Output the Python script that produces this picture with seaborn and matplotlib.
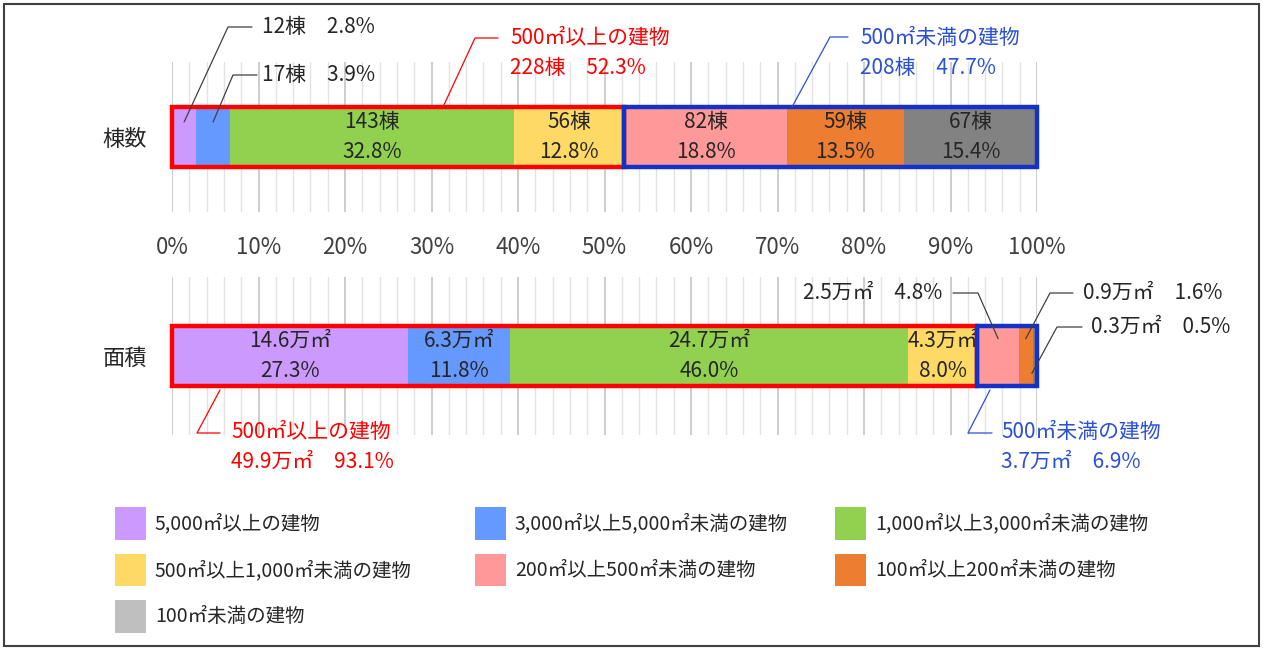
import numpy as np
import pandas as pd
import seaborn as sns
import matplotlib.pyplot as plt
from matplotlib.patches import Rectangle, Patch
from matplotlib.lines import Line2D

# ---------------- data ----------------
categories = ["5,000㎡以上の建物", "3,000㎡以上5,000㎡未満の建物", "1,000㎡以上3,000㎡未満の建物",
              "500㎡以上1,000㎡未満の建物", "200㎡以上500㎡未満の建物", "100㎡以上200㎡未満の建物",
              "100㎡未満の建物"]
count_values = [12, 17, 143, 56, 82, 59, 67]          # 棟
count_pct = [2.8, 3.9, 32.8, 12.8, 18.8, 13.5, 15.4]  # %
area_values = [14.6, 6.3, 24.7, 4.3, 2.5, 0.9, 0.3]   # 万㎡
area_pct = [27.3, 11.8, 46.0, 8.0, 4.8, 1.6, 0.5]     # %
row_labels = ["棟数", "面積"]
group_labels = ["500㎡以上の建物", "500㎡未満の建物"]
x_ticks = [0, 10, 20, 30, 40, 50, 60, 70, 80, 90, 100]
tick_labels = [f"{t}%" for t in x_ticks]

bar_colors = ["#CC99FF", "#6699FF", "#92D050", "#FFD966", "#FF9999", "#ED7D31", "#828282"]
legend_colors = ["#CC99FF", "#6699FF", "#92D050", "#FFD966", "#FF9999", "#ED7D31", "#BFBFBF"]
RED = "#FF0000"
BLUE_BOX = "#1432C8"
BLUE_TXT = "#2C50D4"
TXT = "#262626"

sns.set_theme(style="white")
plt.rcParams['font.family'] = ['Noto Sans CJK JP', 'DejaVu Sans']

W, H = 1263, 648
fig = plt.figure(figsize=(W / 100, H / 100), dpi=100)


def fx(px):
    return px / W


def fy(py):
    return 1 - py / H


ax1 = fig.add_axes([fx(172), fy(212), 865 / W, 150 / H])
ax2 = fig.add_axes([fx(172), fy(435), 865 / W, 158 / H])


def draw_bar(ax, row, pct, height):
    cum = np.cumsum(pct)
    for i in reversed(range(len(pct))):
        df = pd.DataFrame({"value": [cum[i]], "row": [row]})
        sns.barplot(data=df, x="value", y="row", orient="h", color=bar_colors[i],
                    saturation=1, width=height, linewidth=0, ax=ax, zorder=2)
    ax.set_xlim(0, 100)
    ax.set_ylim(0.5, -0.5)
    ax.set_xlabel("")
    ax.set_ylabel("")
    ax.set_xticks(x_ticks)
    ax.set_xticks(np.arange(0, 101, 2), minor=True)
    ax.grid(which="minor", axis="x", color="#E2E2E2", lw=1.0, zorder=0)
    ax.grid(which="major", axis="x", color="#C9C9C9", lw=1.3, zorder=0)
    ax.set_axisbelow(True)
    for s in ax.spines.values():
        s.set_visible(False)
    ax.tick_params(axis="both", which="both", length=0)
    ax.tick_params(axis="y", pad=18, labelsize=16, labelcolor=TXT)
    return cum


h1, h2 = 0.40, 0.386
cum1 = draw_bar(ax1, row_labels[0], count_pct, h1)
cum2 = draw_bar(ax2, row_labels[1], area_pct, h2)

ax1.set_xticklabels(tick_labels, fontsize=16, color="#404040")
ax1.tick_params(axis="x", pad=17)
ax2.set_xticklabels([])

LS = 1.45
# segment labels inside bars
for i in range(2, 7):
    mid = cum1[i] - count_pct[i] / 2
    ax1.text(mid, 0, f"{count_values[i]}棟\n{count_pct[i]:.1f}%", ha="center", va="center",
             fontsize=15, color=TXT, linespacing=LS, zorder=5)
for i in range(0, 4):
    mid = cum2[i] - area_pct[i] / 2
    ax2.text(mid, 0, f"{area_values[i]:.1f}万㎡\n{area_pct[i]:.1f}%", ha="center", va="center",
             fontsize=15, color=TXT, linespacing=LS, zorder=5)

# group boxes
split1 = sum(count_pct[:4])
split2 = sum(area_pct[:4])
ax1.add_patch(Rectangle((0, -h1 / 2), split1, h1, fill=False, ec=RED, lw=3.2, zorder=6, clip_on=False))
ax1.add_patch(Rectangle((split1, -h1 / 2), 100 - split1, h1, fill=False, ec=BLUE_BOX, lw=3.2, zorder=6, clip_on=False))
ax2.add_patch(Rectangle((0, -h2 / 2), split2, h2, fill=False, ec=RED, lw=3.2, zorder=6, clip_on=False))
ax2.add_patch(Rectangle((split2, -h2 / 2), 100 - split2, h2, fill=False, ec=BLUE_BOX, lw=3.2, zorder=6, clip_on=False))


def leader(pts, color):
    xs = [fx(p[0]) for p in pts]
    ys = [fy(p[1]) for p in pts]
    fig.add_artist(Line2D(xs, ys, color=color, lw=0.9, transform=fig.transFigure, zorder=7))


def data_px(ax, x, y):
    dx, dy = ax.transData.transform((x, y))
    return dx, H - dy


def ftext(px, py, s, color=TXT, ha="left"):
    fig.text(fx(px), fy(py), s, ha=ha, va="center", fontsize=15, color=color, linespacing=LS)


# --- top: small segments
for i, (ty, ex) in enumerate([(27, 228), (75, 233)]):
    mid = cum1[i] - count_pct[i] / 2
    sx, sy = data_px(ax1, mid, -0.1)
    leader([(sx, sy), (ex, ty), (ex + 24, ty)], "#404040")
    ftext(262, ty, f"{count_values[i]}棟　{count_pct[i]:.1f}%")

# --- top: groups
g1c, g2c = sum(count_values[:4]), sum(count_values[4:])
g1p, g2p = sum(count_pct[:4]), sum(count_pct[4:])
leader([(443, 107), (475, 38), (498, 38)], RED)
ftext(510, 53, f"{group_labels[0]}\n{g1c}棟　{g1p:.1f}%", color=RED)
leader([(792, 107), (830, 37), (848, 37)], BLUE_TXT)
ftext(860, 53, f"{group_labels[1]}\n{g2c}棟　{g2p:.1f}%", color=BLUE_TXT)

# --- bottom: small segments
mid = cum2[4] - area_pct[4] / 2
sx, sy = data_px(ax2, mid, -0.11)
leader([(sx, sy), (978, 293), (953, 293)], "#404040")
ftext(942, 293, f"{area_values[4]:.1f}万㎡　{area_pct[4]:.1f}%", ha="right")

mid = cum2[5] - area_pct[5] / 2
sx, sy = data_px(ax2, mid, -0.11)
leader([(sx, sy), (1050, 293), (1073, 293)], "#404040")
ftext(1083, 293, f"{area_values[5]:.1f}万㎡　{area_pct[5]:.1f}%")

mid = cum2[6] - area_pct[6] / 2
sx, sy = data_px(ax2, mid, 0.11)
leader([(sx - 3, sy), (1057, 327), (1082, 327)], "#404040")
ftext(1091, 327, f"{area_values[6]:.1f}万㎡　{area_pct[6]:.1f}%")

# --- bottom: groups
a1, a2 = sum(area_values[:4]), sum(area_values[4:])
a1p, a2p = sum(area_pct[:4]), sum(area_pct[4:])
leader([(220, 390), (197, 433), (220, 433)], RED)
ftext(231, 447, f"{group_labels[0]}\n{a1:.1f}万㎡　{a1p:.1f}%", color=RED)
leader([(990, 390), (968, 433), (992, 433)], BLUE_TXT)
ftext(1001, 447, f"{group_labels[1]}\n{a2:.1f}万㎡　{a2p:.1f}%", color=BLUE_TXT)

# --- legend (row-wise, 3 columns)
handles = [Patch(facecolor=c, edgecolor="none") for c in legend_colors]
col_x = [115, 475, 835]
for c in range(3):
    idx = list(range(c, len(categories), 3))
    lg = fig.legend([handles[i] for i in idx], [categories[i] for i in idx],
                    loc="upper left", bbox_to_anchor=(fx(col_x[c]), fy(507)),
                    frameon=False, fontsize=14, handlelength=1.6, handleheight=2.2,
                    handletextpad=0.45, labelspacing=0.72, borderpad=0, borderaxespad=0)
    for t in lg.get_texts():
        t.set_color(TXT)

# figure border
fig.add_artist(Rectangle((fx(4), fy(646)), fx(1255), 642 / H, transform=fig.transFigure,
                         fill=False, ec="#404040", lw=1.5))

fig.savefig("out.png", dpi=100)
